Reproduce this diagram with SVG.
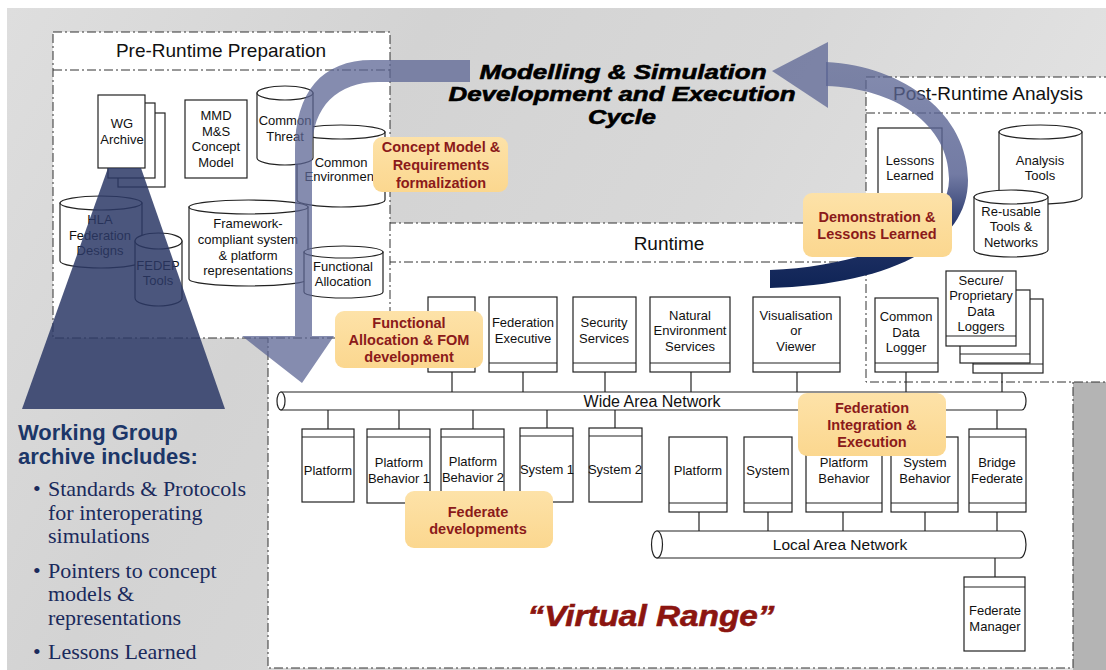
<svg xmlns="http://www.w3.org/2000/svg" width="1106" height="670" viewBox="0 0 1106 670">
<defs>
<linearGradient id="bg" x1="0" y1="0" x2="1" y2="0.35">
<stop offset="0" stop-color="#dedede"/><stop offset="0.35" stop-color="#d3d3d3"/><stop offset="0.65" stop-color="#d8d8d8"/><stop offset="1" stop-color="#e4e4e4"/>
</linearGradient>
<linearGradient id="rarrow" gradientUnits="userSpaceOnUse" x1="0" y1="60" x2="0" y2="288">
<stop offset="0" stop-color="#5c6694" stop-opacity="0.75"/><stop offset="0.5" stop-color="#5a6494" stop-opacity="0.85"/><stop offset="0.72" stop-color="#26366a"/><stop offset="1" stop-color="#0f2456"/>
</linearGradient>
<linearGradient id="lbl" x1="0" y1="0" x2="0" y2="1">
<stop offset="0" stop-color="#fde2a8"/><stop offset="1" stop-color="#fbd78f"/>
</linearGradient>
<style>
.bx{fill:#fff;stroke:#222;stroke-width:1.2}
.dd{fill:none;stroke:#333;stroke-width:1;stroke-dasharray:9 3 2 3}
.ln{stroke:#222;stroke-width:1.2;fill:none}
.t{font-family:"Liberation Sans",Arial,sans-serif;font-size:13px;fill:#111;text-anchor:middle}
.h{font-family:"Liberation Sans",Arial,sans-serif;font-size:19px;fill:#111;text-anchor:middle}
.lb{fill:url(#lbl)}
.lt{font-family:"Liberation Sans",Arial,sans-serif;font-size:14.5px;font-weight:bold;fill:#8b1a1a;text-anchor:middle}
.bl{font-family:"Liberation Serif","Times New Roman",serif;font-size:22px;fill:#1a2a5c}
</style>
</defs>

<g id="background">
<rect width="1106" height="670" fill="#fff"/>
<rect x="7" y="8" width="1099" height="662" fill="url(#bg)"/>
</g>

<g id="runtime-frame">
<rect x="268" y="223" width="805" height="445" fill="#fff"/>
<rect x="1073" y="382" width="33" height="288" fill="#b4b4b4"/>
<rect x="268" y="223" width="805" height="445" class="dd"/>
<line x1="268" y1="262" x2="1073" y2="262" class="dd"/>
<text x="669" y="250" class="h">Runtime</text>
</g>

<g id="pre-runtime-frame">
<rect x="53" y="32" width="337" height="306" fill="#fff"/>
<rect x="53" y="32" width="337" height="306" class="dd"/>
<line x1="53" y1="70" x2="390" y2="70" class="dd"/>
<text x="221" y="57" class="h">Pre-Runtime Preparation</text>
</g>

<g id="post-runtime-frame">
<rect x="866" y="77" width="245" height="305" fill="#fff"/>
<rect x="866" y="77" width="245" height="305" class="dd"/>
<line x1="866" y1="113" x2="1106" y2="113" class="dd"/>
<text x="988" y="100" class="h">Post-Runtime Analysis</text>
</g>

<g id="wg-archive">
<rect x="118" y="113" width="47" height="74" class="bx"/>
<rect x="108" y="103" width="47" height="75" class="bx"/>
<rect x="98" y="95" width="47" height="73" class="bx"/>
<text x="122" y="128" class="t">WG</text>
<text x="122" y="144" class="t">Archive</text>
</g>
<g id="mmd-concept-model">
<rect x="185" y="100" width="62" height="78" class="bx"/>
<text x="216" y="120" class="t">MMD</text>
<text x="216" y="136" class="t">M&amp;S</text>
<text x="216" y="151" class="t">Concept</text>
<text x="216" y="167" class="t">Model</text>
</g>
<g id="common-environment">
<path d="M297,132 V200 A44,7 0 0 0 385,200 V132 Z" class="bx"/>
<ellipse cx="341" cy="132" rx="44" ry="7" class="bx"/>
<text x="341" y="167" class="t">Common</text>
<text x="341" y="181" class="t">Environment</text>
</g>
<g id="common-threat">
<path d="M257,93 V158 A28,7 0 0 0 313,158 V93 Z" class="bx"/>
<ellipse cx="285" cy="93" rx="28" ry="7" class="bx"/>
<text x="285" y="125" class="t">Common</text>
<text x="285" y="141" class="t">Threat</text>
</g>
<g id="hla-federation-designs">
<path d="M60,203 V261 A41,7 0 0 0 142,261 V203 Z" class="bx"/>
<ellipse cx="101" cy="203" rx="41" ry="7" class="bx"/>
<text x="100" y="224" class="t">HLA</text>
<text x="100" y="240" class="t">Federation</text>
<text x="100" y="255" class="t">Designs</text>
</g>
<g id="fedep-tools">
<path d="M135,241 V298 A23.5,8 0 0 0 182,298 V241 Z" class="bx"/>
<ellipse cx="158.5" cy="241" rx="23.5" ry="8" class="bx"/>
<text x="158" y="270" class="t">FEDEP</text>
<text x="158" y="285" class="t">Tools</text>
</g>
<g id="framework-representations">
<path d="M189,207 V279 A59.5,7 0 0 0 308,279 V207 Z" class="bx"/>
<ellipse cx="248.5" cy="207" rx="59.5" ry="7" class="bx"/>
<text x="248" y="228" class="t">Framework-</text>
<text x="248" y="244" class="t">compliant system</text>
<text x="248" y="260" class="t">&amp; platform</text>
<text x="248" y="275" class="t">representations</text>
</g>
<g id="functional-allocation">
<path d="M304,252 V292 A39.5,6 0 0 0 383,292 V252 Z" class="bx"/>
<ellipse cx="343.5" cy="252" rx="39.5" ry="6" class="bx"/>
<text x="343" y="271" class="t">Functional</text>
<text x="343" y="286" class="t">Allocation</text>
</g>

<g id="lessons-learned">
<rect x="878" y="128" width="64" height="72" class="bx"/>
<text x="910" y="165" class="t">Lessons</text>
<text x="910" y="180" class="t">Learned</text>
</g>
<g id="analysis-tools">
<path d="M999,132 V197 A41.5,7 0 0 0 1082,197 V132 Z" class="bx"/>
<ellipse cx="1040.5" cy="132" rx="41.5" ry="7" class="bx"/>
<text x="1040" y="165" class="t">Analysis</text>
<text x="1040" y="180" class="t">Tools</text>
</g>
<g id="reusable-tools">
<path d="M974,197 V250 A37,7 0 0 0 1048,250 V197 Z" class="bx"/>
<ellipse cx="1011" cy="197" rx="37" ry="7" class="bx"/>
<text x="1011" y="216" class="t">Re-usable</text>
<text x="1011" y="231" class="t">Tools &amp;</text>
<text x="1011" y="247" class="t">Networks</text>
</g>

<g id="connectors">
<line x1="452" y1="372" x2="452" y2="392" class="ln"/>
<line x1="523" y1="372" x2="523" y2="392" class="ln"/>
<line x1="605" y1="372" x2="605" y2="392" class="ln"/>
<line x1="691" y1="372" x2="691" y2="392" class="ln"/>
<line x1="797" y1="372" x2="797" y2="392" class="ln"/>
<line x1="906" y1="372" x2="906" y2="392" class="ln"/>
<line x1="1002" y1="373" x2="1002" y2="392" class="ln"/>
<line x1="328" y1="410" x2="328" y2="429" class="ln"/>
<line x1="399" y1="410" x2="399" y2="429" class="ln"/>
<line x1="473" y1="410" x2="473" y2="429" class="ln"/>
<line x1="547" y1="410" x2="547" y2="428" class="ln"/>
<line x1="615" y1="410" x2="615" y2="428" class="ln"/>
<line x1="997" y1="410" x2="997" y2="429" class="ln"/>
<line x1="699" y1="512" x2="699" y2="531" class="ln"/>
<line x1="768" y1="512" x2="768" y2="531" class="ln"/>
<line x1="843" y1="512" x2="843" y2="531" class="ln"/>
<line x1="925" y1="512" x2="925" y2="531" class="ln"/>
<line x1="997" y1="512" x2="997" y2="531" class="ln"/>
<line x1="995" y1="558" x2="995" y2="577" class="ln"/>
</g>

<g id="blank-federate">
<rect x="428" y="297" width="47" height="75" class="bx"/><line x1="428" y1="363" x2="475" y2="363" class="ln"/>
</g>
<g id="federation-executive">
<rect x="489" y="297" width="68" height="75" class="bx"/><line x1="489" y1="363" x2="557" y2="363" class="ln"/>
<text x="523" y="327" class="t">Federation</text><text x="523" y="343" class="t">Executive</text>
</g>
<g id="security-services">
<rect x="573" y="297" width="63" height="75" class="bx"/><line x1="573" y1="363" x2="636" y2="363" class="ln"/>
<text x="604" y="327" class="t">Security</text><text x="604" y="343" class="t">Services</text>
</g>
<g id="natural-environment">
<rect x="650" y="297" width="80" height="75" class="bx"/><line x1="650" y1="363" x2="730" y2="363" class="ln"/>
<text x="690" y="320" class="t">Natural</text><text x="690" y="335" class="t">Environment</text><text x="690" y="351" class="t">Services</text>
</g>
<g id="visualisation">
<rect x="753" y="297" width="87" height="75" class="bx"/><line x1="753" y1="363" x2="840" y2="363" class="ln"/>
<text x="796" y="320" class="t">Visualisation</text><text x="796" y="335" class="t">or</text><text x="796" y="351" class="t">Viewer</text>
</g>
<g id="common-data-logger">
<rect x="875" y="298" width="63" height="74" class="bx"/><line x1="875" y1="363" x2="938" y2="363" class="ln"/>
<text x="906" y="321" class="t">Common</text><text x="906" y="337" class="t">Data</text><text x="906" y="352" class="t">Logger</text>
</g>
<g id="secure-data-loggers">
<rect x="973" y="299" width="70" height="74" class="bx"/><line x1="973" y1="364" x2="1043" y2="364" class="ln"/>
<rect x="960" y="290" width="70" height="73" class="bx"/><line x1="960" y1="354" x2="1030" y2="354" class="ln"/>
<rect x="946" y="271" width="70" height="75" class="bx"/><line x1="946" y1="336" x2="1016" y2="336" class="ln"/>
<text x="981" y="285" class="t">Secure/</text><text x="981" y="300" class="t">Proprietary</text><text x="981" y="316" class="t">Data</text><text x="981" y="331" class="t">Loggers</text>
</g>

<g id="wide-area-network">
<path d="M281,392 H1022 A4,9 0 0 1 1022,410 H281 Z" class="bx"/>
<ellipse cx="281" cy="401" rx="4" ry="9" class="bx"/>
<text x="652" y="407" class="t" style="font-size:16px">Wide Area Network</text>
</g>

<g id="platform-1">
<rect x="302" y="429" width="52" height="73" class="bx"/><line x1="302" y1="437" x2="354" y2="437" class="ln"/>
<text x="328" y="475" class="t">Platform</text>
</g>
<g id="platform-behavior-1">
<rect x="367" y="429" width="63" height="74" class="bx"/><line x1="367" y1="437" x2="430" y2="437" class="ln"/>
<text x="399" y="467" class="t">Platform</text><text x="399" y="483" class="t">Behavior 1</text>
</g>
<g id="platform-behavior-2">
<rect x="441" y="429" width="63" height="74" class="bx"/><line x1="441" y1="437" x2="504" y2="437" class="ln"/>
<text x="473" y="466" class="t">Platform</text><text x="473" y="482" class="t">Behavior 2</text>
</g>
<g id="system-1">
<rect x="520" y="428" width="53" height="74" class="bx"/><line x1="520" y1="436" x2="573" y2="436" class="ln"/>
<text x="547" y="474" class="t">System 1</text>
</g>
<g id="system-2">
<rect x="589" y="428" width="53" height="74" class="bx"/><line x1="589" y1="436" x2="642" y2="436" class="ln"/>
<text x="615" y="474" class="t">System 2</text>
</g>

<g id="platform-2">
<rect x="669" y="437" width="58" height="75" class="bx"/><line x1="669" y1="503" x2="727" y2="503" class="ln"/>
<text x="698" y="475" class="t">Platform</text>
</g>
<g id="system">
<rect x="744" y="437" width="48" height="75" class="bx"/><line x1="744" y1="503" x2="792" y2="503" class="ln"/>
<text x="768" y="475" class="t">System</text>
</g>
<g id="platform-behavior">
<rect x="806" y="437" width="76" height="75" class="bx"/><line x1="806" y1="503" x2="882" y2="503" class="ln"/>
<text x="844" y="467" class="t">Platform</text><text x="844" y="483" class="t">Behavior</text>
</g>
<g id="system-behavior">
<rect x="891" y="437" width="67" height="75" class="bx"/><line x1="891" y1="503" x2="958" y2="503" class="ln"/>
<text x="925" y="467" class="t">System</text><text x="925" y="483" class="t">Behavior</text>
</g>
<g id="bridge-federate">
<rect x="969" y="429" width="57" height="83" class="bx"/><line x1="969" y1="437" x2="1026" y2="437" class="ln"/><line x1="969" y1="503" x2="1026" y2="503" class="ln"/>
<text x="997" y="467" class="t">Bridge</text><text x="997" y="483" class="t">Federate</text>
</g>

<g id="local-area-network">
<path d="M657,531 H1020 A6,13.5 0 0 1 1020,558 H657 Z" class="bx"/>
<ellipse cx="657" cy="544.5" rx="5.5" ry="13.5" class="bx"/>
<text x="840" y="550" class="t" style="font-size:15.5px">Local Area Network</text>
</g>

<g id="federate-manager">
<rect x="964" y="577" width="61" height="74" class="bx"/><line x1="964" y1="587" x2="1025" y2="587" class="ln"/>
<text x="995" y="615" class="t">Federate</text><text x="995" y="631" class="t">Manager</text>
</g>

<g id="wg-spotlight">
<polygon points="108,168 141,168 225,409 22,409" fill="#2b3866" opacity="0.85"/>
</g>

<g id="cycle-arrows">
<path d="M470,60 L372,60 C322,60 295,92 295,150 L295,336 L242,336 L302,383 L334,336 L312,336 L312,150 C312,106 338,82 378,82 L470,82 Z" fill="#5c6694" opacity="0.75"/>
<path d="M826,62 C905,66 968,115 968,180 C968,250 880,285 770,288 L770,270 C870,266 948,230 949,180 C950,125 895,88 826,86 Z" fill="url(#rarrow)"/>
<polygon points="772,71 828,42 828,108" fill="#5c6694" opacity="0.75"/>
</g>

<g id="labels">
<rect x="373" y="137" width="135" height="55" rx="9" class="lb"/>
<text x="441" y="152" class="lt">Concept Model &amp;</text>
<text x="441" y="170" class="lt">Requirements</text>
<text x="441" y="188" class="lt">formalization</text>
<rect x="335" y="311" width="148" height="57" rx="9" class="lb"/>
<text x="409" y="328" class="lt">Functional</text>
<text x="409" y="345" class="lt">Allocation &amp; FOM</text>
<text x="409" y="362" class="lt">development</text>
<rect x="803" y="193" width="149" height="64" rx="9" class="lb"/>
<text x="877" y="222" class="lt">Demonstration &amp;</text>
<text x="877" y="239" class="lt">Lessons Learned</text>
<rect x="798" y="393" width="148" height="63" rx="9" class="lb"/>
<text x="872" y="413" class="lt">Federation</text>
<text x="872" y="430" class="lt">Integration &amp;</text>
<text x="872" y="447" class="lt">Execution</text>
<rect x="405" y="491" width="148" height="57" rx="9" class="lb"/>
<text x="478" y="517" class="lt">Federate</text>
<text x="478" y="534" class="lt">developments</text>
</g>

<g id="titles" font-family="'Liberation Sans',Arial,sans-serif" font-weight="bold" font-style="italic" text-anchor="middle">
<text x="623" y="79" font-size="21" fill="#000" stroke="#000" stroke-width="0.6" textLength="287" lengthAdjust="spacingAndGlyphs">Modelling &amp; Simulation</text>
<text x="622" y="101" font-size="21" fill="#000" stroke="#000" stroke-width="0.6" textLength="347" lengthAdjust="spacingAndGlyphs">Development and Execution</text>
<text x="622" y="124" font-size="21" fill="#000" stroke="#000" stroke-width="0.6" textLength="68" lengthAdjust="spacingAndGlyphs">Cycle</text>
<text x="651" y="626" font-size="30" fill="#8b1510" stroke="#8b1510" stroke-width="0.6" textLength="247" lengthAdjust="spacingAndGlyphs">“Virtual Range”</text>
</g>

<g id="wg-text">
<text x="18" y="440" font-family="'Liberation Sans',Arial,sans-serif" font-weight="bold" font-size="22" fill="#1c3668">Working Group</text>
<text x="18" y="464" font-family="'Liberation Sans',Arial,sans-serif" font-weight="bold" font-size="22" fill="#1c3668">archive includes:</text>
<text x="33" y="496" class="bl">•</text><text x="48" y="496" class="bl">Standards &amp; Protocols</text>
<text x="48" y="520" class="bl">for interoperating</text>
<text x="48" y="543" class="bl">simulations</text>
<text x="33" y="578" class="bl">•</text><text x="48" y="578" class="bl">Pointers to concept</text>
<text x="48" y="601" class="bl">models &amp;</text>
<text x="48" y="625" class="bl">representations</text>
<text x="33" y="659" class="bl">•</text><text x="48" y="659" class="bl">Lessons Learned</text>
</g>
</svg>
